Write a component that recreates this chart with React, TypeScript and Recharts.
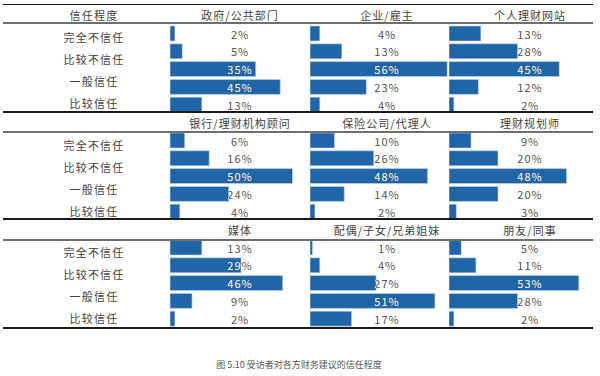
import React from "react";
import { Bar, BarChart, LabelList, XAxis, YAxis } from "recharts";

// trust levels (5 bars per panel); only four row captions are printed in the source figure
const LEVELS = ["完全不信任", "比较不信任", "一般信任", "比较信任", "完全信任"];
const ROW_LABELS = ["完全不信任", "比较不信任", "一般信任", "比较信任"];
const HEADER_LEFT = "信任程度";

const SOURCES = [
  "政府/公共部门", "企业/雇主", "个人理财网站",
  "银行/理财机构顾问", "保险公司/代理人", "理财规划师",
  "媒体", "配偶/子女/兄弟姐妹", "朋友/同事",
];

const government = [2, 5, 35, 45, 13];
const employer = [4, 13, 56, 23, 4];
const website = [13, 28, 45, 12, 2];
const bankAdvisor = [6, 16, 50, 24, 4];
const insurance = [10, 26, 48, 14, 2];
const planner = [9, 20, 48, 20, 3];
const media = [13, 29, 46, 9, 2];
const family = [1, 4, 27, 51, 17];
const friends = [5, 11, 53, 28, 2];

const SERIES = [government, employer, website, bankAdvisor, insurance, planner, media, family, friends];

const CAPTION = "图 5.10 受访者对各方财务建议的信任程度";

// layout
const BAR_X = [170, 310, 449];
const LABEL_X = [240, 387, 530];
const ROW_TOP = [24.5, 132, 239];
const HEADER_Y = [15, 123, 230];
const HEADER_LINE_Y = [22, 131, 239];
const BOTTOM_LINE_Y = [111, 218, 327];

const FONT = '"Noto Sans CJK SC", "Noto Sans", sans-serif';
const BAR_COLOR = "#1f65a8";
const TEXT = "#444";

const PctLabel = (props: any) => {
  const { x, y, width, height, value, cx, id } = props;
  const ty = y + height / 2;
  const style: React.CSSProperties = { fontSize: 11, letterSpacing: 1, fontFamily: FONT };
  return (
    <g>
      <defs>
        <clipPath id={id}>
          <rect x={x} y={y} width={width} height={height} />
        </clipPath>
      </defs>
      <text x={cx} y={ty} textAnchor="middle" dominantBaseline="central" fill="#555" style={style}>
        {value}%
      </text>
      <text x={cx} y={ty} textAnchor="middle" dominantBaseline="central" fill="#fff" clipPath={`url(#${id})`} style={style}>
        {value}%
      </text>
    </g>
  );
};

const Panel = ({ idx }: { idx: number }) => {
  const row = Math.floor(idx / 3);
  const col = idx % 3;
  const values = SERIES[idx];
  const data = LEVELS.map((level, i) => ({ level, value: values[i] }));
  const cx = LABEL_X[col] - BAR_X[col];
  return (
    <div style={{ position: "absolute", left: BAR_X[col], top: ROW_TOP[row] }}>
      <BarChart width={160} height={89} data={data} layout="vertical" margin={{ top: 0, right: 13, bottom: 0, left: 0 }} barSize={15}>
        <XAxis type="number" domain={[0, 60]} hide />
        <YAxis type="category" dataKey="level" hide />
        <Bar dataKey="value" fill={BAR_COLOR} stroke="#c9d9ea" strokeWidth={0.6} isAnimationActive={false}>
          <LabelList dataKey="value" content={(p: any) => <PctLabel {...p} cx={cx} id={`clip-${idx}-${p.index}`} />} />
        </Bar>
      </BarChart>
    </div>
  );
};

const CenterText = ({ x, y, text, size = 11, spacing = 1, color = TEXT }: any) => (
  <div
    style={{
      position: "absolute",
      left: x - 100,
      top: y - 7,
      width: 200,
      height: 14,
      lineHeight: "14px",
      textAlign: "center",
      fontSize: size,
      letterSpacing: spacing,
      color,
      whiteSpace: "nowrap",
    }}
  >
    {text}
  </div>
);

const HLine = ({ y, h, color }: { y: number; h: number; color: string }) => (
  <div style={{ position: "absolute", left: 3, width: 590, top: y, height: h, background: color }} />
);

export default function App() {
  return (
    <div style={{ position: "absolute", left: 0, top: 0, width: 600, height: 376, background: "#fff", fontFamily: FONT, overflow: "hidden" }}>
      {SERIES.map((_, i) => (
        <Panel key={i} idx={i} />
      ))}

      <CenterText x={94} y={HEADER_Y[0]} text={HEADER_LEFT} spacing={1.2} />
      {SOURCES.map((s, i) => (
        <CenterText key={s} x={LABEL_X[i % 3]} y={HEADER_Y[Math.floor(i / 3)]} text={s} />
      ))}

      {ROW_TOP.map((top, r) =>
        ROW_LABELS.map((lbl, i) => <CenterText key={`${r}-${i}`} x={94} y={top + 12.5 + i * 22} text={lbl} spacing={1.2} />)
      )}

      <HLine y={3.5} h={1.5} color="#1a1a1a" />
      {HEADER_LINE_Y.map((y) => (
        <HLine key={`h${y}`} y={y} h={2} color="#6e6e6e" />
      ))}
      {BOTTOM_LINE_Y.map((y) => (
        <HLine key={`b${y}`} y={y} h={1.5} color="#1a1a1a" />
      ))}

      <CenterText x={299} y={365} text={CAPTION} size={9} spacing={0} color="#555" />
    </div>
  );
}
